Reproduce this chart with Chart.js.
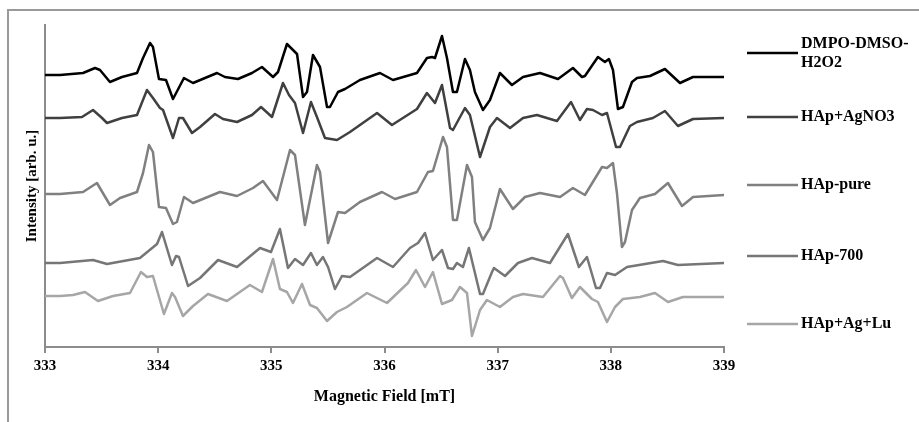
<!DOCTYPE html>
<html>
<head>
<meta charset="utf-8">
<title>EPR spectra</title>
<script src="https://cdn.jsdelivr.net/npm/chart.js@4.4.1/dist/chart.umd.min.js"></script>
<style>
  body { margin: 0; background: #fff; }
  #wrap { width: 919px; height: 422px; }
</style>
</head>
<body>
<div id="wrap"><canvas id="eprChart" width="919" height="422"></canvas></div>
<script>
// Magnetic field [mT] vs intensity [arb. u.], curves stacked with offsets as in the figure
const seriesNames = ['DMPO-DMSO-H2O2', 'HAp+AgNO3', 'HAp-pure', 'HAp-700', 'HAp+Ag+Lu'];
const seriesColors = ['#000000', '#404040', '#808080', '#767676', '#a6a6a6'];
const fieldTicks = [333, 334, 335, 336, 337, 338, 339];

const dmpo = [
  [333.000, 272], [333.133, 272], [333.336, 274], [333.442, 279], [333.486, 277], [333.574, 265],
  [333.680, 270], [333.813, 274], [333.866, 289], [333.928, 304], [333.954, 300], [334.007, 268],
  [334.069, 267], [334.131, 248], [334.228, 269], [334.308, 264], [334.520, 274], [334.590, 270],
  [334.705, 268], [334.829, 274], [334.917, 280], [335.015, 270], [335.059, 275], [335.138, 303],
  [335.227, 293], [335.280, 250], [335.315, 255], [335.368, 292], [335.430, 280], [335.492, 240],
  [335.518, 240], [335.589, 255], [335.651, 258], [335.783, 267], [335.960, 274], [336.075, 267],
  [336.287, 274], [336.375, 289], [336.420, 290], [336.446, 289], [336.508, 311], [336.552, 289],
  [336.605, 255], [336.640, 255], [336.711, 288], [336.755, 277], [336.799, 255], [336.870, 237],
  [336.932, 247], [337.020, 274], [337.126, 262], [337.224, 270], [337.374, 274], [337.533, 268],
  [337.665, 279], [337.745, 270], [337.771, 271], [337.886, 290], [337.948, 285], [337.983, 288],
  [338.019, 277], [338.063, 238], [338.107, 240], [338.187, 265], [338.231, 269], [338.346, 271],
  [338.478, 278], [338.611, 264], [338.726, 270], [339.000, 270]
];

const agno3 = [
  [333.000, 229], [333.133, 229], [333.327, 230], [333.424, 237], [333.504, 229], [333.548, 224],
  [333.680, 229], [333.813, 232], [333.901, 257], [333.954, 249], [334.016, 239], [334.043, 237],
  [334.131, 209], [334.184, 229], [334.219, 229], [334.299, 214], [334.370, 220], [334.502, 233],
  [334.573, 228], [334.697, 225], [334.829, 232], [334.909, 240], [335.006, 230], [335.103, 264],
  [335.156, 252], [335.209, 244], [335.280, 214], [335.350, 245], [335.403, 230], [335.474, 209],
  [335.580, 207], [335.695, 215], [335.934, 234], [336.066, 222], [336.287, 238], [336.375, 254],
  [336.446, 244], [336.508, 262], [336.579, 219], [336.605, 217], [336.711, 239], [336.755, 232],
  [336.844, 190], [336.932, 220], [336.994, 229], [337.109, 219], [337.224, 229], [337.347, 232],
  [337.524, 226], [337.648, 245], [337.727, 227], [337.789, 238], [337.842, 237], [337.922, 232],
  [337.966, 234], [338.046, 200], [338.081, 200], [338.169, 221], [338.231, 225], [338.372, 229],
  [338.478, 236], [338.593, 221], [338.726, 228], [339.000, 229]
];

const hapPure = [
  [333.000, 153], [333.133, 153], [333.336, 155], [333.459, 164], [333.574, 142], [333.663, 149],
  [333.813, 155], [333.866, 174], [333.919, 202], [333.954, 195], [334.007, 140], [334.069, 139],
  [334.131, 123], [334.166, 125], [334.228, 150], [334.308, 144], [334.546, 155], [334.697, 151],
  [334.838, 159], [334.926, 166], [335.050, 147], [335.165, 197], [335.209, 192], [335.297, 122],
  [335.403, 182], [335.430, 175], [335.501, 104], [335.589, 135], [335.651, 134], [335.783, 145],
  [335.978, 155], [336.093, 148], [336.287, 155], [336.384, 175], [336.428, 176], [336.517, 210],
  [336.552, 200], [336.605, 127], [336.640, 127], [336.729, 182], [336.773, 170], [336.799, 125],
  [336.870, 107], [336.932, 119], [337.020, 158], [337.135, 138], [337.241, 150], [337.374, 154],
  [337.551, 150], [337.665, 159], [337.771, 152], [337.922, 180], [337.966, 179], [338.019, 184],
  [338.054, 154], [338.098, 100], [338.125, 105], [338.187, 137], [338.257, 149], [338.390, 153],
  [338.505, 164], [338.629, 141], [338.726, 150], [339.000, 152]
];

const hap700 = [
  [333.000, 84], [333.133, 84], [333.424, 87], [333.548, 83], [333.839, 89], [333.990, 103],
  [334.034, 115], [334.122, 82], [334.158, 91], [334.184, 90], [334.264, 61], [334.370, 69],
  [334.529, 87], [334.697, 80], [334.900, 99], [334.997, 95], [335.076, 118], [335.147, 79],
  [335.209, 88], [335.280, 82], [335.350, 94], [335.403, 82], [335.456, 90], [335.501, 80],
  [335.562, 58], [335.624, 71], [335.695, 70], [335.934, 89], [336.075, 80], [336.225, 99],
  [336.296, 104], [336.358, 114], [336.428, 87], [336.508, 97], [336.561, 79], [336.605, 78],
  [336.640, 84], [336.693, 80], [336.746, 99], [336.844, 53], [336.870, 53], [336.950, 75],
  [336.967, 79], [337.065, 71], [337.179, 84], [337.303, 89], [337.462, 84], [337.621, 113],
  [337.718, 80], [337.789, 90], [337.869, 59], [337.904, 59], [337.966, 74], [338.037, 72],
  [338.143, 80], [338.461, 86], [338.593, 82], [339.000, 84]
];

const hapAgLu = [
  [333.000, 51], [333.133, 51], [333.247, 52], [333.353, 55], [333.468, 46], [333.601, 51],
  [333.751, 54], [333.848, 75], [333.901, 70], [333.954, 71], [334.051, 33], [334.122, 54],
  [334.149, 50], [334.219, 31], [334.308, 41], [334.440, 53], [334.608, 46], [334.811, 62],
  [334.917, 55], [335.015, 88], [335.076, 58], [335.138, 55], [335.191, 44], [335.271, 63],
  [335.342, 42], [335.403, 39], [335.492, 26], [335.580, 35], [335.668, 40], [335.845, 54],
  [336.022, 44], [336.207, 64], [336.278, 77], [336.358, 60], [336.428, 75], [336.508, 43],
  [336.596, 47], [336.667, 60], [336.729, 54], [336.773, 11], [336.844, 37], [336.905, 47],
  [337.020, 40], [337.135, 50], [337.224, 53], [337.400, 50], [337.551, 71], [337.577, 69],
  [337.656, 49], [337.727, 60], [337.833, 48], [337.886, 45], [337.966, 25], [338.037, 40],
  [338.107, 48], [338.257, 50], [338.390, 54], [338.505, 45], [338.637, 50], [339.000, 50]
];

const allSeries = [dmpo, agno3, hapPure, hap700, hapAgLu];

const serif = "'Liberation Serif', 'Times New Roman', serif";

// outer frame (top + left edge) like the exported figure
const framePlugin = {
  id: 'frame',
  beforeDraw(chart) {
    const ctx = chart.ctx;
    ctx.save();
    ctx.strokeStyle = '#9a9a9a';
    ctx.lineWidth = 2;
    ctx.beginPath();
    ctx.moveTo(8, chart.height);
    ctx.lineTo(8, 10);
    ctx.lineTo(chart.width, 10);
    ctx.stroke();
    ctx.restore();
  }
};

// legend on the right, excel style with wrapped label
const sideLegend = {
  id: 'sideLegend',
  afterDraw(chart, args, opts) {
    const ctx = chart.ctx;
    const area = chart.chartArea;
    const x0 = area.right + 23;
    const x1 = area.right + 74;
    const tx = area.right + 77;
    const maxW = chart.width - tx - 2;
    ctx.save();
    ctx.font = 'bold 16px ' + serif;
    ctx.textBaseline = 'middle';
    ctx.fillStyle = '#000';
    chart.data.datasets.forEach((ds, i) => {
      const y = area.top + opts.offsets[i];
      ctx.strokeStyle = ds.borderColor;
      ctx.lineWidth = 2.5;
      ctx.beginPath();
      ctx.moveTo(x0, y);
      ctx.lineTo(x1, y);
      ctx.stroke();
      // wrap at hyphens when too wide
      const lines = [];
      if (ctx.measureText(ds.label).width > maxW) {
        const parts = ds.label.split(/(?<=-)/);
        let cur = '';
        parts.forEach(p => {
          if (cur && ctx.measureText(cur + p).width > maxW) { lines.push(cur); cur = p; }
          else cur += p;
        });
        if (cur) lines.push(cur);
      } else {
        lines.push(ds.label);
      }
      const lh = 19;
      const startY = y - (lines.length - 1) * lh / 2;
      lines.forEach((t, k) => ctx.fillText(t, tx, startY + k * lh));
    });
    ctx.restore();
  }
};

new Chart(document.getElementById('eprChart'), {
  type: 'line',
  data: {
    datasets: allSeries.map((s, i) => ({
      label: seriesNames[i],
      data: s.map(p => ({ x: p[0], y: p[1] })),
      borderColor: seriesColors[i],
      borderWidth: 2.5,
      borderJoinStyle: 'round',
      borderCapStyle: 'round',
      pointRadius: 0,
      tension: 0,
      fill: false
    }))
  },
  options: {
    responsive: false,
    animation: false,
    layout: { padding: { top: 25, right: 195, left: 0, bottom: 0 } },
    plugins: {
      legend: { display: false },
      tooltip: { enabled: false },
      sideLegend: { offsets: [28, 92, 160, 231, 299] }
    },
    scales: {
      x: {
        type: 'linear',
        min: fieldTicks[0],
        max: fieldTicks[fieldTicks.length - 1],
        afterBuildTicks: scale => { scale.ticks = fieldTicks.map(v => ({ value: v })); },
        afterFit: scale => { scale.height = 75; },
        grid: { display: true, drawOnChartArea: false, drawTicks: true, tickLength: 6, color: '#8c8c8c', lineWidth: 2 },
        border: { display: true, color: '#8c8c8c', width: 2 },
        ticks: { color: '#000', padding: 4, font: { family: serif, size: 15, weight: 'bold' } },
        title: {
          display: true,
          text: 'Magnetic Field [mT]',
          color: '#000',
          font: { family: serif, size: 16, weight: 'bold' },
          padding: { top: 0, bottom: 16 }
        }
      },
      y: {
        min: 0,
        max: 322,
        afterFit: scale => { scale.width = 45; },
        grid: { display: false },
        border: { display: true, color: '#8c8c8c', width: 2 },
        ticks: { display: false },
        title: {
          display: true,
          text: 'Intensity [arb. u.]',
          color: '#000',
          font: { family: serif, size: 15, weight: 'bold' },
          padding: { top: 23, bottom: 0 }
        }
      }
    }
  },
  plugins: [framePlugin, sideLegend]
});
</script>
</body>
</html>
